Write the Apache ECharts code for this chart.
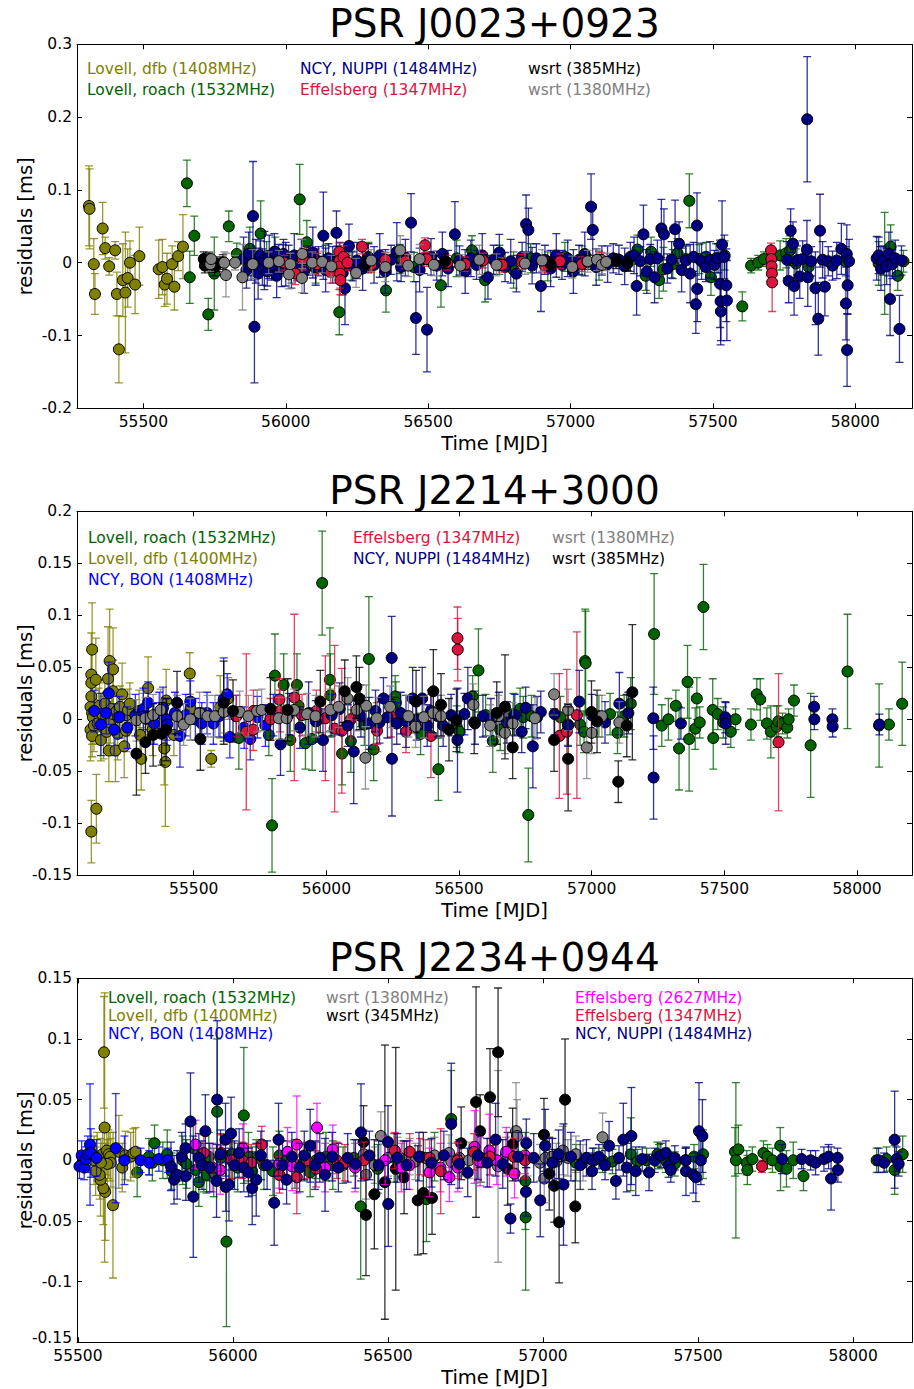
<!DOCTYPE html>
<html>
<head>
<meta charset="utf-8">
<script src="https://cdn.jsdelivr.net/npm/echarts@6/dist/echarts.min.js"></script>
<style>
html,body{margin:0;padding:0;background:#fff;}
#chart{width:914px;height:1389px;}
</style>
</head>
<body>
<div id="chart"></div>
<script>
// ---------- tick values ----------
const xTicks = [55500, 56000, 56500, 57000, 57500, 58000];
const p1YTicks = [-0.2, -0.1, 0, 0.1, 0.2, 0.3];
const p2YTicks = [-0.15, -0.1, -0.05, 0, 0.05, 0.1, 0.15, 0.2];
const p3YTicks = [-0.15, -0.1, -0.05, 0, 0.05, 0.1, 0.15];

const titles = ['PSR J0023+0923', 'PSR J2214+3000', 'PSR J2234+0944'];

// ---------- data: [MJD, residual (ms), error (ms)] ----------
// Panel 1 : PSR J0023+0923
const p1_dfb = [[55309,0.078,0.055],[55311,0.074,0.055],[55326,-0.002,0.035],[55330,-0.043,0.028],[55357,0.047,0.036],[55366,0.020,0.015],[55380,-0.005,0.012],[55401,0.017,0.012],[55407,-0.043,0.03],[55414,-0.119,0.046],[55428,-0.024,0.05],[55437,-0.041,0.083],[55445,-0.021,0.04],[55453,0.000,0.03],[55471,-0.030,0.04],[55486,0.009,0.04],[55554,-0.009,0.04],[55567,-0.006,0.038],[55575,-0.030,0.03],[55583,-0.022,0.035],[55601,-0.002,0.025],[55609,-0.033,0.032],[55622,0.009,0.02],[55639,0.022,0.044]];
const p1_roach = [[55653,0.109,0.032],[55663,-0.020,0.036],[55679,0.037,0.027],[55728,-0.071,0.022],[55749,-0.015,0.05],[55800,0.050,0.021],[55828,0.012,0.015],[55874,0.019,0.03],[55912,0.040,0.045],[55933,0.009,0.02],[55963,0.015,0.02],[55990,0.005,0.02],[56020,-0.008,0.02],[56049,0.087,0.048],[56074,0.028,0.03],[56105,-0.008,0.02],[56140,0.004,0.02],[56181,0.003,0.02],[56188,-0.068,0.031],[56230,-0.004,0.02],[56290,0.008,0.02],[56352,-0.038,0.03],[56400,0.005,0.02],[56450,-0.006,0.02],[56545,-0.031,0.03],[56600,0.006,0.025],[56654,0.017,0.02],[56700,-0.024,0.03],[56750,0.004,0.02],[56800,-0.010,0.025],[56860,0.006,0.02],[56920,-0.005,0.02],[56980,0.008,0.02],[57040,0.003,0.02],[57100,-0.004,0.02],[57235,0.018,0.02],[57264,-0.018,0.02],[57283,0.015,0.02],[57311,-0.024,0.025],[57326,-0.009,0.03],[57359,-0.002,0.02],[57376,0.013,0.02],[57405,0.005,0.02],[57417,0.085,0.037],[57452,0.005,0.02],[57476,0.008,0.02],[57493,-0.020,0.025],[57511,0.006,0.02],[57541,0.010,0.02],[57603,-0.060,0.02],[57634,-0.004,0.01],[57659,0.000,0.01],[57679,0.005,0.01],[57736,0.010,0.02],[57757,0.013,0.02],[57771,0.017,0.02],[57791,-0.001,0.02],[57836,-0.006,0.02],[57966,0.002,0.02],[58082,-0.001,0.03],[58103,-0.001,0.07],[58124,0.022,0.03],[58149,-0.018,0.02],[58169,0.002,0.015]];
const p1_nuppi = [[55852,0.005,0.03],[55862,-0.010,0.025],[55870,0.012,0.03],[55878,-0.004,0.02],[55885,0.064,0.075],[55890,-0.088,0.077],[55895,0.002,0.03],[55903,-0.015,0.035],[55910,0.010,0.02],[55918,-0.006,0.025],[55925,0.003,0.04],[55935,-0.012,0.02],[55942,0.008,0.03],[55950,-0.004,0.02],[55960,0.015,0.025],[55968,-0.018,0.03],[55975,0.005,0.02],[55985,-0.008,0.025],[55992,0.012,0.02],[56000,-0.002,0.03],[56010,0.004,0.02],[56020,-0.010,0.025],[56030,0.010,0.03],[56040,-0.005,0.02],[56055,0.007,0.025],[56065,-0.012,0.03],[56080,0.003,0.02],[56095,0.014,0.035],[56105,-0.006,0.025],[56115,0.002,0.02],[56132,0.037,0.06],[56140,-0.010,0.03],[56150,0.006,0.02],[56165,-0.003,0.025],[56178,0.041,0.03],[56190,0.008,0.02],[56200,-0.014,0.03],[56208,-0.035,0.05],[56222,0.023,0.03],[56235,-0.005,0.02],[56250,0.003,0.025],[56270,-0.008,0.03],[56290,0.006,0.02],[56310,-0.003,0.025],[56330,0.010,0.03],[56350,-0.012,0.03],[56370,0.004,0.02],[56390,0.015,0.04],[56405,-0.006,0.02],[56420,0.007,0.025],[56440,0.055,0.04],[56457,-0.076,0.05],[56470,-0.010,0.03],[56485,0.005,0.02],[56496,-0.092,0.058],[56510,0.008,0.025],[56530,-0.004,0.02],[56550,0.012,0.03],[56570,-0.008,0.025],[56594,0.039,0.045],[56610,0.003,0.02],[56630,-0.012,0.03],[56650,0.006,0.025],[56670,-0.003,0.02],[56690,0.010,0.03],[56710,-0.020,0.03],[56730,0.004,0.02],[56750,0.014,0.025],[56770,-0.006,0.02],[56790,0.002,0.03],[56810,-0.015,0.025],[56830,0.008,0.02],[56844,0.053,0.04],[56852,0.045,0.03],[56865,-0.004,0.025],[56880,0.006,0.02],[56896,-0.032,0.035],[56910,0.004,0.02],[56930,-0.008,0.025],[56950,0.010,0.03],[56970,-0.003,0.02],[56990,0.006,0.025],[57010,-0.012,0.03],[57030,0.004,0.02],[57050,0.012,0.03],[57072,0.077,0.045],[57078,0.045,0.035],[57090,-0.006,0.025],[57110,0.003,0.02],[57130,-0.002,0.025],[57150,0.006,0.02],[57170,0.004,0.02],[57190,-0.005,0.025],[57210,0.008,0.02],[57223,0.010,0.025],[57232,-0.032,0.04],[57245,0.002,0.02],[57256,0.039,0.04],[57268,-0.012,0.03],[57280,0.005,0.02],[57295,-0.020,0.035],[57305,0.006,0.025],[57319,0.047,0.04],[57328,0.039,0.035],[57340,-0.008,0.02],[57355,0.004,0.025],[57367,0.046,0.04],[57381,0.026,0.03],[57390,-0.010,0.03],[57405,0.003,0.02],[57420,-0.015,0.04],[57432,0.008,0.02],[57440,-0.057,0.04],[57444,0.051,0.045],[57445,-0.036,0.045],[57460,0.002,0.025],[57475,-0.006,0.02],[57490,0.004,0.025],[57505,-0.003,0.02],[57518,0.006,0.02],[57525,-0.029,0.06],[57527,-0.053,0.06],[57528,-0.067,0.04],[57532,0.025,0.06],[57540,0.008,0.03],[57547,-0.031,0.05],[57549,-0.052,0.055],[57760,0.004,0.025],[57766,-0.025,0.03],[57773,0.044,0.03],[57781,0.026,0.03],[57785,-0.032,0.04],[57795,0.003,0.02],[57805,-0.019,0.03],[57815,0.005,0.025],[57830,0.018,0.04],[57831,0.197,0.086],[57833,-0.020,0.04],[57845,0.002,0.02],[57860,-0.035,0.05],[57870,-0.077,0.05],[57876,0.044,0.05],[57885,0.004,0.025],[57893,-0.033,0.04],[57905,0.002,0.02],[57920,-0.004,0.02],[57935,0.003,0.025],[57951,0.019,0.035],[57967,-0.056,0.05],[57970,0.012,0.04],[57971,-0.120,0.05],[57973,-0.031,0.04],[57978,0.002,0.03],[58075,0.006,0.03],[58082,0.010,0.025],[58090,-0.008,0.03],[58098,0.003,0.02],[58110,-0.005,0.025],[58118,0.012,0.03],[58122,-0.050,0.05],[58130,-0.002,0.02],[58140,0.006,0.025],[58155,-0.091,0.046],[58162,0.003,0.02]];
const p1_eff = [[55995,0.000,0.01],[56033,-0.015,0.015],[56060,0.005,0.015],[56110,-0.002,0.015],[56158,-0.013,0.015],[56188,0.015,0.012],[56189,0.003,0.012],[56190,-0.005,0.015],[56191,-0.015,0.02],[56192,-0.024,0.02],[56203,0.008,0.015],[56217,0.000,0.01],[56268,0.022,0.01],[56300,-0.003,0.01],[56350,0.004,0.01],[56420,0.002,0.01],[56489,0.024,0.01],[56495,0.005,0.01],[56567,0.000,0.01],[56630,-0.002,0.01],[56693,0.003,0.01],[56760,-0.003,0.01],[56830,0.001,0.01],[56910,-0.004,0.01],[56963,0.002,0.01],[57040,-0.002,0.01],[57108,0.004,0.01],[57704,0.017,0.01],[57705,0.005,0.01],[57706,-0.005,0.012],[57707,-0.015,0.012],[57708,-0.027,0.04]];
const p1_w385 = [[55712,0.005,0.01],[55716,-0.004,0.01],[55720,0.002,0.01],[55725,-0.002,0.008],[55730,0.004,0.01],[55740,-0.003,0.01],[55750,-0.006,0.012],[55758,-0.002,0.01],[55780,0.001,0.01],[56280,-0.002,0.01],[56560,0.002,0.01],[56930,-0.002,0.01],[57060,0.001,0.01],[57160,0.002,0.01],[57200,-0.001,0.01]];
const p1_w1380 = [[55735,-0.002,0.01],[55738,0.005,0.01],[55784,0.000,0.015],[55790,-0.017,0.03],[55822,0.000,0.01],[55848,-0.020,0.045],[55884,-0.002,0.02],[55940,0.000,0.015],[55976,0.002,0.015],[56011,-0.016,0.02],[56016,-0.002,0.015],[56057,-0.021,0.02],[56058,0.012,0.02],[56093,0.000,0.015],[56128,0.001,0.015],[56160,-0.005,0.015],[56247,-0.014,0.02],[56300,0.003,0.015],[56350,-0.006,0.02],[56402,0.017,0.02],[56430,-0.004,0.015],[56470,0.005,0.02],[56520,-0.003,0.015],[56613,-0.004,0.015],[56680,0.004,0.02],[56740,-0.003,0.015],[56840,-0.001,0.015],[56900,0.003,0.015],[57006,-0.006,0.015],[57060,0.002,0.015],[57093,0.004,0.015],[57110,-0.003,0.012],[57125,0.001,0.012]];

// Panel 2 : PSR J2214+3000
const p2_roach = [[55670,-0.018,0.03],[55783,-0.015,0.02],[55795,-0.102,0.045],[55806,0.042,0.04],[55839,0.033,0.03],[55864,-0.020,0.03],[55889,0.033,0.03],[55895,0.013,0.02],[55921,-0.023,0.025],[55946,-0.019,0.03],[55971,0.000,0.02],[55984,0.131,0.05],[56013,0.038,0.05],[56015,0.023,0.04],[56059,-0.033,0.03],[56092,-0.021,0.03],[56128,0.013,0.02],[56143,-0.005,0.02],[56160,0.058,0.06],[56178,-0.029,0.03],[56259,0.022,0.02],[56262,0.016,0.02],[56355,-0.014,0.02],[56422,-0.048,0.03],[56491,-0.007,0.02],[56502,-0.012,0.02],[56551,0.022,0.02],[56573,0.047,0.04],[56600,0.004,0.02],[56627,-0.021,0.03],[56655,-0.010,0.02],[56705,0.005,0.02],[56730,0.010,0.02],[56742,0.002,0.02],[56761,-0.092,0.045],[56773,0.003,0.02],[56882,0.002,0.02],[56910,-0.005,0.02],[56956,-0.005,0.02],[56971,-0.012,0.02],[56975,0.056,0.05],[56977,0.054,0.05],[57027,0.003,0.02],[57069,0.005,0.02],[57097,-0.013,0.02],[57122,0.003,0.02],[57147,0.015,0.025],[57235,0.082,0.058],[57264,-0.006,0.02],[57289,0.000,0.02],[57317,0.013,0.015],[57329,-0.028,0.04],[57361,0.036,0.035],[57367,-0.019,0.05],[57390,-0.009,0.02],[57396,0.020,0.02],[57407,-0.003,0.015],[57421,0.108,0.041],[57456,0.009,0.03],[57458,-0.018,0.03],[57475,0.005,0.015],[57496,-0.003,0.015],[57524,-0.012,0.015],[57542,0.000,0.01],[57600,-0.005,0.015],[57622,0.024,0.015],[57635,0.019,0.02],[57660,-0.004,0.015],[57675,-0.012,0.025],[57697,-0.007,0.02],[57703,-0.002,0.015],[57719,-0.004,0.01],[57737,-0.008,0.01],[57742,0.000,0.01],[57762,0.018,0.015],[57825,-0.025,0.05],[57964,0.046,0.055],[58083,-0.006,0.04],[58120,-0.005,0.015],[58170,0.015,0.04]];
const p2_dfb = [[55111,0.012,0.03],[55111,-0.010,0.03],[55114,0.043,0.04],[55114,0.035,0.03],[55114,0.022,0.02],[55114,-0.108,0.03],[55117,0.067,0.045],[55117,0.006,0.03],[55117,-0.016,0.02],[55120,0.002,0.02],[55124,-0.006,0.025],[55131,0.038,0.04],[55133,-0.086,0.033],[55138,-0.004,0.02],[55142,0.010,0.02],[55145,0.013,0.025],[55150,-0.020,0.02],[55155,0.005,0.02],[55160,-0.008,0.03],[55165,0.015,0.02],[55172,-0.012,0.02],[55177,0.039,0.05],[55180,-0.030,0.03],[55183,0.056,0.05],[55185,-0.003,0.02],[55190,0.010,0.02],[55196,0.048,0.04],[55196,0.027,0.03],[55196,0.005,0.02],[55205,-0.030,0.03],[55210,0.008,0.02],[55213,-0.014,0.025],[55215,0.002,0.02],[55222,0.012,0.02],[55230,0.024,0.03],[55238,-0.026,0.03],[55245,-0.011,0.02],[55246,0.004,0.02],[55252,0.009,0.02],[55259,0.015,0.02],[55294,0.008,0.02],[55298,-0.015,0.02],[55302,-0.038,0.03],[55310,0.005,0.02],[55325,0.000,0.02],[55328,0.030,0.03],[55345,-0.010,0.025],[55380,-0.005,0.02],[55389,-0.028,0.035],[55393,-0.041,0.062],[55396,0.018,0.03],[55425,-0.015,0.02],[55485,0.044,0.02],[55488,0.010,0.03],[55566,-0.038,0.008],[55600,0.012,0.03],[55630,0.020,0.02]];
const p2_bon = [[55125,0.008,0.02],[55150,-0.005,0.03],[55170,0.006,0.02],[55180,0.025,0.03],[55200,-0.010,0.025],[55220,0.002,0.02],[55250,-0.008,0.02],[55280,0.004,0.02],[55310,0.010,0.02],[55328,0.016,0.02],[55350,-0.004,0.02],[55370,0.006,0.02],[55384,0.011,0.02],[55398,0.000,0.02],[55400,-0.005,0.02],[55429,0.006,0.02],[55448,-0.016,0.03],[55470,0.004,0.02],[55487,0.017,0.02],[55506,0.000,0.02],[55530,-0.004,0.02],[55550,0.006,0.02],[55574,-0.004,0.02],[55595,0.003,0.02],[55613,0.019,0.04],[55626,0.024,0.02],[55636,-0.017,0.02],[55660,0.003,0.02],[55690,-0.008,0.02],[55713,-0.019,0.02],[55740,0.002,0.02],[55770,-0.006,0.02],[55800,0.004,0.02]];
const p2_eff = [[55661,0.003,0.02],[55698,-0.012,0.075],[55724,-0.010,0.02],[55725,0.008,0.02],[55789,0.000,0.02],[55823,0.019,0.02],[55825,0.008,0.02],[55879,0.021,0.08],[55908,0.004,0.02],[55962,0.008,0.02],[55996,0.001,0.06],[56031,-0.009,0.08],[56058,-0.011,0.06],[56092,0.000,0.02],[56190,-0.004,0.02],[56191,-0.011,0.02],[56243,0.003,0.02],[56300,-0.012,0.02],[56394,-0.016,0.04],[56494,0.078,0.03],[56495,0.067,0.03],[56878,-0.016,0.06],[56906,-0.012,0.06],[56944,0.004,0.08],[57704,-0.022,0.066]];
const p2_nuppi = [[55827,-0.024,0.03],[55860,0.005,0.02],[55900,-0.008,0.02],[55933,0.006,0.03],[55960,-0.002,0.02],[55987,-0.020,0.03],[56020,0.004,0.02],[56050,0.010,0.025],[56080,-0.006,0.02],[56103,-0.031,0.05],[56130,0.003,0.02],[56160,-0.004,0.025],[56185,0.008,0.02],[56200,-0.003,0.02],[56215,0.020,0.02],[56230,0.002,0.02],[56246,0.059,0.04],[56247,-0.038,0.055],[56265,-0.004,0.02],[56280,0.006,0.02],[56300,-0.002,0.025],[56325,0.020,0.03],[56340,0.000,0.02],[56361,0.020,0.03],[56380,-0.006,0.02],[56394,0.008,0.02],[56420,0.003,0.02],[56440,-0.006,0.02],[56470,0.004,0.02],[56494,-0.020,0.05],[56520,0.005,0.02],[56533,0.020,0.03],[56560,-0.004,0.02],[56590,0.003,0.02],[56620,0.000,0.02],[56650,0.006,0.02],[56680,-0.003,0.02],[56710,0.004,0.02],[56736,-0.012,0.02],[56751,0.011,0.02],[56778,-0.026,0.04],[56794,0.002,0.02],[56808,0.007,0.02],[56860,0.005,0.02],[56911,-0.006,0.02],[56953,0.017,0.03],[57000,0.004,0.02],[57050,-0.003,0.02],[57104,0.015,0.03],[57138,0.006,0.02],[57232,0.001,0.03],[57233,-0.056,0.04],[57336,-0.004,0.015],[57503,0.002,0.015],[57505,-0.004,0.02],[57838,0.012,0.01],[57839,0.000,0.01],[57907,0.000,0.01],[57908,-0.007,0.01],[58084,-0.005,0.01]];
const p2_w1380 = [[55284,-0.001,0.02],[55318,0.001,0.02],[55347,0.004,0.02],[55375,0.009,0.02],[55437,0.003,0.02],[55462,-0.005,0.02],[55487,0.000,0.02],[55522,0.006,0.02],[55552,0.003,0.02],[55580,0.003,0.02],[55613,0.007,0.02],[55673,0.007,0.02],[55706,0.003,0.02],[55739,0.008,0.02],[55756,0.009,0.02],[55821,0.001,0.02],[55850,0.001,0.02],[55878,0.009,0.02],[55927,0.005,0.02],[55959,0.003,0.02],[56015,0.009,0.02],[56046,0.012,0.02],[56080,0.020,0.02],[56114,0.009,0.02],[56147,-0.037,0.03],[56150,0.013,0.02],[56190,0.001,0.02],[56240,0.012,0.02],[56309,0.003,0.02],[56336,-0.007,0.02],[56367,0.002,0.02],[56403,0.006,0.02],[56432,0.003,0.02],[56554,0.014,0.02],[56617,-0.006,0.02],[56648,0.003,0.02],[56673,-0.013,0.02],[56702,-0.004,0.02],[56786,0.001,0.02],[56858,0.024,0.02],[56911,0.009,0.02],[56981,-0.027,0.03],[57000,-0.013,0.02],[57038,0.003,0.02],[57104,-0.003,0.02]];
const p2_w385 = [[55284,-0.033,0.04],[55318,-0.022,0.03],[55347,-0.015,0.03],[55379,-0.014,0.03],[55396,-0.010,0.03],[55437,0.016,0.03],[55525,-0.019,0.03],[55613,0.016,0.04],[55648,0.008,0.03],[55789,0.010,0.03],[55854,0.009,0.03],[55977,0.017,0.03],[56069,0.027,0.03],[56113,0.031,0.03],[56124,0.020,0.03],[56338,0.017,0.03],[56403,0.027,0.04],[56432,0.014,0.03],[56462,-0.010,0.03],[56490,-0.001,0.03],[56557,-0.003,0.03],[56642,0.006,0.03],[56673,0.012,0.05],[56702,-0.027,0.03],[56858,-0.020,0.03],[56911,-0.038,0.05],[56999,0.007,0.03],[57020,-0.002,0.03],[57100,-0.060,0.02],[57132,-0.006,0.03],[57153,0.026,0.065]];

// Panel 3 : PSR J2234+0944
const p3_roach = [[55691,-0.010,0.02],[55729,0.003,0.015],[55740,-0.002,0.015],[55747,0.014,0.015],[55774,0.000,0.015],[55788,0.005,0.02],[55802,-0.009,0.015],[55838,0.000,0.02],[55850,-0.003,0.02],[55872,0.010,0.02],[55880,-0.008,0.02],[55890,-0.018,0.02],[55906,-0.006,0.02],[55915,-0.012,0.015],[55922,0.003,0.02],[55938,-0.010,0.02],[55949,0.040,0.06],[55960,0.002,0.02],[55979,-0.067,0.07],[55990,0.004,0.02],[55999,0.005,0.02],[56015,-0.006,0.02],[56035,0.037,0.056],[56050,0.003,0.02],[56062,-0.009,0.02],[56075,0.002,0.015],[56100,-0.004,0.02],[56129,-0.009,0.02],[56150,0.004,0.02],[56175,0.001,0.015],[56200,-0.003,0.02],[56230,-0.002,0.015],[56249,-0.010,0.02],[56268,0.000,0.015],[56300,0.003,0.02],[56322,-0.004,0.02],[56355,-0.004,0.015],[56390,0.002,0.015],[56412,-0.038,0.06],[56467,-0.007,0.02],[56520,0.002,0.02],[56624,-0.032,0.035],[56650,0.003,0.02],[56704,0.034,0.04],[56800,0.002,0.02],[56943,-0.017,0.04],[56944,-0.047,0.06],[57106,-0.002,0.015],[57165,0.000,0.01],[57192,0.000,0.01],[57224,-0.001,0.01],[57283,0.005,0.03],[57305,-0.001,0.01],[57334,0.000,0.01],[57369,0.005,0.01],[57374,0.003,0.01],[57396,0.000,0.01],[57425,-0.003,0.01],[57460,0.000,0.01],[57487,0.003,0.01],[57516,0.005,0.02],[57619,0.007,0.02],[57622,0.000,0.064],[57630,0.009,0.02],[57657,-0.002,0.01],[57659,-0.008,0.012],[57675,0.001,0.01],[57711,0.006,0.01],[57724,0.003,0.01],[57740,0.000,0.01],[57765,0.012,0.015],[57766,-0.005,0.02],[57785,-0.007,0.015],[57807,0.000,0.015],[57840,-0.013,0.012],[58076,0.000,0.01],[58108,0.001,0.01],[58134,-0.008,0.02],[58160,0.005,0.015]];
const p3_dfb = [[55584,0.089,0.046],[55586,0.027,0.111],[55613,-0.037,0.06],[55588,-0.026,0.04],[55582,-0.023,0.03],[55573,-0.016,0.03],[55570,-0.012,0.02],[55557,-0.009,0.02],[55552,0.000,0.02],[55562,0.003,0.02],[55580,0.005,0.02],[55593,0.008,0.02],[55599,0.005,0.02],[55604,0.003,0.02],[55606,-0.002,0.02],[55595,-0.003,0.02],[55574,-0.002,0.02],[55632,0.007,0.03],[55643,-0.006,0.02],[55653,0.004,0.02],[55670,0.003,0.02],[55679,0.006,0.02],[55686,0.007,0.02]];
const p3_bon = [[55505,-0.005,0.01],[55512,0.004,0.012],[55520,-0.006,0.01],[55525,0.001,0.01],[55532,0.005,0.015],[55539,0.013,0.05],[55542,0.006,0.02],[55560,0.002,0.015],[55622,0.010,0.045],[55650,0.000,0.02],[55702,0.000,0.01],[55730,-0.002,0.01],[55761,0.001,0.01],[55790,0.000,0.01]];
const p3_w1380 = [[56422,0.005,0.02],[56429,-0.012,0.02],[56457,-0.004,0.015],[56477,0.020,0.02],[56500,0.002,0.015],[56530,0.004,0.015],[56546,0.001,0.015],[56570,0.003,0.015],[56588,-0.001,0.015],[56620,0.002,0.015],[56650,0.004,0.015],[56697,0.006,0.015],[56704,-0.001,0.015],[56730,0.002,0.015],[56761,0.000,0.015],[56790,0.000,0.015],[56830,0.003,0.015],[56855,-0.005,0.079],[56880,0.004,0.015],[56913,0.024,0.04],[56916,0.020,0.03],[56950,0.002,0.015],[56990,-0.002,0.015],[57004,-0.015,0.02],[57008,0.002,0.02],[57030,0.003,0.015],[57043,-0.001,0.015],[57064,0.008,0.02],[57080,0.002,0.015],[57106,0.005,0.015],[57129,-0.002,0.015],[57192,0.019,0.02]];
const p3_w345 = [[56421,0.015,0.03],[56429,-0.045,0.05],[56456,-0.028,0.045],[56490,-0.018,0.113],[56525,-0.007,0.1],[56552,-0.014,0.03],[56596,-0.033,0.045],[56614,-0.027,0.05],[56642,-0.031,0.03],[56736,0.014,0.03],[56784,0.048,0.095],[56797,0.024,0.03],[56829,0.052,0.04],[56855,0.089,0.053],[56886,-0.007,0.03],[56902,0.013,0.03],[57003,0.021,0.03],[57020,-0.011,0.03],[57036,-0.021,0.03],[57052,-0.051,0.05],[57071,0.050,0.05],[57104,-0.038,0.03]];
const p3_e2627 = [[55879,0.013,0.02],[55933,-0.006,0.02],[55959,-0.008,0.02],[56032,0.010,0.02],[56149,-0.003,0.02],[56176,0.007,0.02],[56191,-0.005,0.02],[56206,0.013,0.04],[56271,0.027,0.02],[56297,-0.006,0.02],[56322,0.009,0.02],[56394,-0.006,0.02],[56491,0.000,0.02],[56543,-0.006,0.02],[56569,-0.004,0.02],[56634,-0.010,0.02],[56669,-0.006,0.02],[56698,-0.014,0.02],[56725,-0.006,0.02],[56779,0.011,0.03],[56797,-0.001,0.02],[56827,0.008,0.03],[56851,0.000,0.02],[56881,0.007,0.02],[56908,-0.011,0.02],[56942,0.004,0.015]];
const p3_e1347 = [[55906,0.006,0.015],[55962,0.006,0.015],[55995,0.000,0.015],[56030,0.000,0.015],[56059,-0.002,0.015],[56093,0.013,0.015],[56150,-0.012,0.015],[56206,-0.014,0.03],[56238,0.000,0.015],[56268,-0.007,0.015],[56335,0.000,0.015],[56361,-0.002,0.015],[56422,0.000,0.015],[56522,0.008,0.015],[56570,0.007,0.015],[56604,0.003,0.015],[56634,0.002,0.015],[56670,-0.009,0.035],[56725,0.000,0.015],[56777,0.007,0.015],[56828,0.003,0.015],[56906,0.003,0.015],[56942,0.000,0.015],[57706,-0.005,0.005]];
const p3_nuppi = [[55800,-0.005,0.02],[55810,-0.016,0.02],[55820,-0.012,0.02],[55835,0.003,0.02],[55847,0.010,0.02],[55848,-0.013,0.02],[55863,0.032,0.04],[55872,-0.030,0.05],[55890,0.002,0.02],[55900,-0.004,0.02],[55911,0.024,0.03],[55925,-0.006,0.02],[55947,-0.017,0.03],[55949,0.050,0.065],[55960,0.005,0.02],[55976,0.017,0.03],[55977,-0.022,0.02],[55987,-0.020,0.03],[55994,0.022,0.03],[56005,-0.004,0.02],[56020,0.006,0.02],[56035,-0.006,0.02],[56050,-0.010,0.02],[56062,-0.023,0.03],[56075,-0.016,0.03],[56090,0.004,0.02],[56110,-0.004,0.02],[56133,-0.035,0.035],[56147,0.017,0.03],[56160,-0.004,0.02],[56173,-0.016,0.02],[56190,0.003,0.02],[56215,-0.006,0.02],[56230,0.004,0.02],[56249,0.012,0.03],[56265,-0.004,0.02],[56280,0.002,0.02],[56297,-0.012,0.03],[56320,0.003,0.02],[56340,-0.006,0.02],[56370,0.002,0.02],[56395,-0.003,0.02],[56413,0.023,0.04],[56440,0.004,0.02],[56470,-0.004,0.02],[56500,0.015,0.03],[56501,-0.036,0.035],[56530,0.002,0.02],[56560,-0.004,0.02],[56600,0.003,0.02],[56640,-0.002,0.02],[56680,0.004,0.02],[56704,0.030,0.05],[56730,-0.003,0.02],[56757,-0.010,0.02],[56790,0.004,0.02],[56820,-0.002,0.02],[56847,0.017,0.03],[56870,-0.003,0.02],[56895,-0.048,0.012],[56920,0.003,0.02],[56945,-0.026,0.02],[56946,0.014,0.02],[56970,0.002,0.02],[56991,-0.033,0.03],[57007,0.012,0.03],[57030,-0.002,0.02],[57050,0.005,0.02],[57066,-0.020,0.05],[57090,0.003,0.02],[57120,-0.004,0.02],[57140,0.002,0.015],[57158,-0.009,0.015],[57160,0.000,0.01],[57180,0.003,0.01],[57200,-0.004,0.012],[57213,0.012,0.02],[57235,-0.017,0.015],[57245,0.002,0.01],[57259,0.017,0.03],[57270,-0.006,0.02],[57285,0.020,0.04],[57299,-0.009,0.02],[57320,0.001,0.01],[57342,-0.010,0.015],[57360,0.000,0.01],[57380,0.004,0.01],[57396,0.006,0.01],[57405,-0.004,0.01],[57412,-0.008,0.01],[57425,0.002,0.01],[57460,0.000,0.01],[57461,-0.009,0.02],[57485,-0.012,0.015],[57493,-0.014,0.02],[57503,0.024,0.04],[57509,0.000,0.02],[57514,0.020,0.03],[57771,0.001,0.012],[57834,0.001,0.008],[57863,0.000,0.008],[57879,-0.002,0.01],[57906,0.001,0.01],[57921,0.003,0.01],[57929,-0.015,0.026],[57950,0.002,0.008],[57951,-0.008,0.01],[58082,0.000,0.01],[58100,-0.002,0.008],[58134,0.017,0.04],[58140,0.001,0.01],[58147,-0.003,0.01]];

// ---------- colours ----------
const C = {olive:'#808000', green:'#006400', navy:'#000080', crimson:'#DC143C', black:'#000000', grey:'#808080', blue:'#0000FF', magenta:'#FF00FF'};

// panels: draw order = legend order
const panels = [
  {title: titles[0], xMin: 55267, xMax: 58199, yMin: -0.2, yMax: 0.3, yTicks: p1YTicks,
   sets: [
     {name:'Lovell, dfb (1408MHz)', data:p1_dfb, color:C.olive, lx:87, ly:68.5},
     {name:'Lovell, roach (1532MHz)', data:p1_roach, color:C.green, lx:87, ly:90},
     {name:'NCY, NUPPI (1484MHz)', data:p1_nuppi, color:C.navy, lx:300, ly:68.5},
     {name:'Effelsberg (1347MHz)', data:p1_eff, color:C.crimson, lx:300, ly:90},
     {name:'wsrt (385MHz)', data:p1_w385, color:C.black, lx:528, ly:68.5},
     {name:'wsrt (1380MHz)', data:p1_w1380, color:C.grey, lx:528, ly:90}
   ]},
  {title: titles[1], xMin: 55060, xMax: 58207, yMin: -0.15, yMax: 0.2, yTicks: p2YTicks,
   sets: [
     {name:'Lovell, roach (1532MHz)', data:p2_roach, color:C.green, lx:88, ly:537.5},
     {name:'Lovell, dfb (1400MHz)', data:p2_dfb, color:C.olive, lx:88, ly:558.5},
     {name:'NCY, BON (1408MHz)', data:p2_bon, color:C.blue, lx:88, ly:579.5},
     {name:'Effelsberg (1347MHz)', data:p2_eff, color:C.crimson, lx:353, ly:537.5},
     {name:'NCY, NUPPI (1484MHz)', data:p2_nuppi, color:C.navy, lx:353, ly:558.5},
     {name:'wsrt (1380MHz)', data:p2_w1380, color:C.grey, lx:552, ly:537.5},
     {name:'wsrt (385MHz)', data:p2_w385, color:C.black, lx:552, ly:558.5}
   ]},
  {title: titles[2], xMin: 55497, xMax: 58190, yMin: -0.15, yMax: 0.15, yTicks: p3YTicks,
   sets: [
     {name:'Lovell, roach (1532MHz)', data:p3_roach, color:C.green, lx:108, ly:997.5},
     {name:'Lovell, dfb (1400MHz)', data:p3_dfb, color:C.olive, lx:108, ly:1015.5},
     {name:'NCY, BON (1408MHz)', data:p3_bon, color:C.blue, lx:108, ly:1033.5},
     {name:'wsrt (1380MHz)', data:p3_w1380, color:C.grey, lx:326, ly:997.5},
     {name:'wsrt (345MHz)', data:p3_w345, color:C.black, lx:326, ly:1015.5},
     {name:'Effelsberg (2627MHz)', data:p3_e2627, color:C.magenta, lx:575, ly:997.5},
     {name:'Effelsberg (1347MHz)', data:p3_e1347, color:C.crimson, lx:575, ly:1015.5},
     {name:'NCY, NUPPI (1484MHz)', data:p3_nuppi, color:C.navy, lx:575, ly:1033.5}
   ]}
];

// ---------- layout ----------
const FONT = 'DejaVu Sans';
const gridTops = [44.3, 511.3, 978.3];
const GRID_LEFT = 77, GRID_W = 835, GRID_H = 364;

const grids = [], xAxes = [], yAxes = [], series = [], graphics = [];
const fmtY = v => String(+(+v).toFixed(2));

panels.forEach((p, i) => {
  grids.push({left: GRID_LEFT, top: gridTops[i], width: GRID_W, height: GRID_H, containLabel: false});
  const axLine = {show: true, onZero: false, lineStyle: {color: '#000', width: 1}};
  // bottom x
  xAxes.push({gridIndex: i, type: 'value', position: 'bottom', min: p.xMin, max: p.xMax,
    axisLine: axLine,
    axisTick: {show: true, inside: true, length: 5, customValues: xTicks, lineStyle: {color: '#000'}},
    axisLabel: {show: true, customValues: xTicks, margin: 6, color: '#000', fontSize: 15.5, lineHeight: 15, fontFamily: FONT, formatter: v => String(v)},
    splitLine: {show: false},
    name: 'Time [MJD]', nameLocation: 'middle', nameGap: 25, nameMoveOverlap: false,
    nameTextStyle: {fontSize: 19.5, color: '#000', fontFamily: FONT}});
  // top x (ticks only)
  xAxes.push({gridIndex: i, type: 'value', position: 'top', min: p.xMin, max: p.xMax,
    axisLine: axLine,
    axisTick: {show: true, inside: true, length: 5, customValues: xTicks, lineStyle: {color: '#000'}},
    axisLabel: {show: false, customValues: xTicks},
    splitLine: {show: false}});
  // left y; lowest label of the last panel is lifted a little so it clears the first x label
  const lowest = p.yMin;
  const liftLowest = (i === 2);
  yAxes.push({gridIndex: i, type: 'value', position: 'left', min: p.yMin, max: p.yMax,
    axisLine: axLine,
    axisTick: {show: true, inside: true, length: 5, customValues: p.yTicks, lineStyle: {color: '#000'}},
    axisLabel: {show: true, customValues: p.yTicks, margin: 5, color: '#000', fontSize: 15.5, lineHeight: 15, fontFamily: FONT,
      formatter: v => (liftLowest && Math.abs(v - lowest) < 1e-9) ? '{lo|' + fmtY(v) + '}' : fmtY(v),
      rich: {lo: {fontSize: 15.5, fontFamily: FONT, color: '#000', lineHeight: 15, padding: [0, 0, 9, 0]}}},
    splitLine: {show: false},
    name: 'residuals [ms]', nameLocation: 'middle', nameGap: 42, nameRotate: 90, nameMoveOverlap: false,
    nameTextStyle: {fontSize: 19.5, color: '#000', fontFamily: FONT}});
  // right y (ticks only)
  yAxes.push({gridIndex: i, type: 'value', position: 'right', min: p.yMin, max: p.yMax,
    axisLine: axLine,
    axisTick: {show: true, inside: true, length: 5, customValues: p.yTicks, lineStyle: {color: '#000'}},
    axisLabel: {show: false, customValues: p.yTicks},
    splitLine: {show: false}});

  const xi = 2 * i, yi = 2 * i;
  p.sets.forEach((s, k) => {
    const zb = 10 + k * 2;
    series.push({
      type: 'custom', name: s.name + ' err ' + i, xAxisIndex: xi, yAxisIndex: yi,
      data: s.data, clip: true, z: zb, silent: true, animation: false,
      encode: {x: 0, y: 1},
      renderItem: (params, api) => {
        const x = api.value(0), y = api.value(1), e = api.value(2);
        const top = api.coord([x, y + e]);
        const bot = api.coord([x, y - e]);
        const cw = 4;
        const st = {stroke: s.color, lineWidth: 1.3, opacity: 0.8};
        return {type: 'group', children: [
          {type: 'line', shape: {x1: top[0], y1: top[1], x2: bot[0], y2: bot[1]}, style: st},
          {type: 'line', shape: {x1: top[0] - cw, y1: top[1], x2: top[0] + cw, y2: top[1]}, style: st},
          {type: 'line', shape: {x1: bot[0] - cw, y1: bot[1], x2: bot[0] + cw, y2: bot[1]}, style: st}
        ]};
      }
    });
    series.push({
      type: 'scatter', name: s.name + ' ' + i, xAxisIndex: xi, yAxisIndex: yi,
      data: s.data.map(d => [d[0], d[1]]), z: zb + 1, animation: false, silent: true,
      symbol: 'circle', symbolSize: 11,
      itemStyle: {color: s.color, borderColor: '#000', borderWidth: 1, opacity: 1}
    });
    graphics.push({type: 'text', x: s.lx, y: s.ly, silent: true,
      style: {text: s.name, fill: s.color, fontSize: 15.5, fontFamily: FONT, align: 'left', verticalAlign: 'middle'}});
  });
  graphics.push({type: 'text', x: GRID_LEFT + GRID_W / 2, y: gridTops[i] - 20.5, silent: true,
    style: {text: p.title, fill: '#000', fontSize: 39, fontFamily: FONT, align: 'center', verticalAlign: 'middle'}});
});

const chart = echarts.init(document.getElementById('chart'), null, {renderer: 'svg', width: 914, height: 1389});
chart.setOption({
  backgroundColor: '#fff',
  animation: false,
  textStyle: {fontFamily: FONT},
  grid: grids,
  xAxis: xAxes,
  yAxis: yAxes,
  series: series,
  graphic: graphics
});
</script>
</body>
</html>
